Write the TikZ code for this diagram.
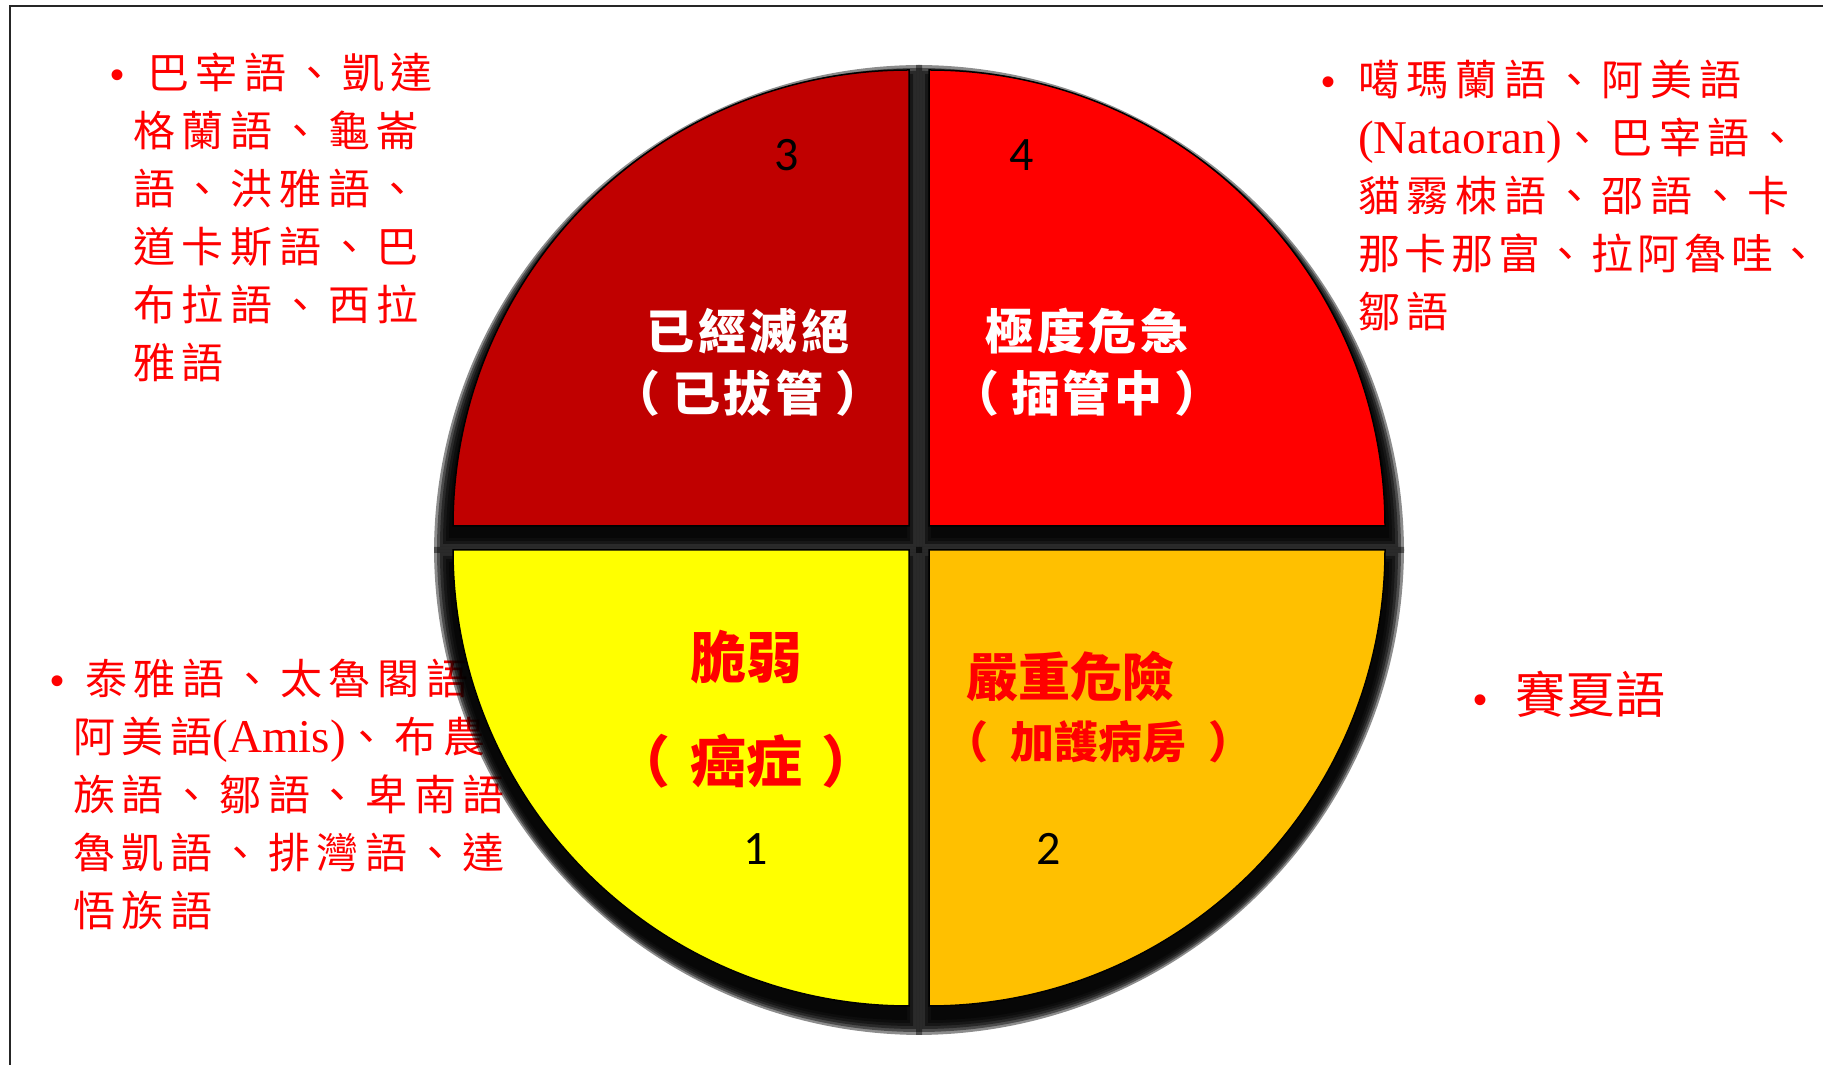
\documentclass[tikz,border=0pt]{standalone}
\usepackage{fontspec}
\newfontfamily\cjk{Noto Sans CJK TC}
\newfontfamily\cjklist{Noto Sans CJK TC}[LetterSpace=16]
\newfontfamily\latin{Liberation Serif}
\newfontfamily\bulfont{Liberation Sans}
\newfontfamily\numfont{Carlito}
\definecolor{deadred}{HTML}{C00000}
\definecolor{hotred}{HTML}{FF0000}
\definecolor{sunyellow}{HTML}{FFFF00}
\definecolor{amber}{HTML}{FFC000}
\newcommand{\bul}[1]{\llap{{\bulfont\fontsize{40}{58}\selectfont •}\hspace{#1pt}}}
\newcommand{\wrapparen}[2]{\kern-#1em（\kern#1em #2\kern#1em）\kern-#1em}
\tikzset{
		quarterpie/.style = {draw=black, line width=1.5pt},
		pieshadow/.style  = {fill=black, opacity=0.45},
		langlist/.style   = {anchor=north west, inner sep=0pt, align=left, text=hotred,
			font=\cjklist\fontsize{42}{58}\selectfont},
		stagelabel/.style = {inner sep=0pt, align=center,
			font=\cjk\bfseries\fontsize{48}{62}\selectfont\addfontfeature{LetterSpace=8}},
		ranknum/.style    = {inner sep=0pt, font=\numfont\fontsize{48}{48}\selectfont}
	}
\begin{document}
\begin{tikzpicture}[x=1pt, y=1pt]
		\useasboundingbox (0,0) rectangle (1823,1065);
		% frame of the slide
		\draw[line width=2pt, black!85] (10,1059) rectangle (1850,-20);
		% lists of languages, behind the circle
		\node[langlist] (list3) at (133,1012) {\bul{9}\hspace*{14pt}巴宰語、凱達\\格蘭語、龜崙\\語、洪雅語、\\道卡斯語、巴\\布拉語、西拉\\雅語};
		\node[langlist] (list4) at (1358,1005) {\bul{23}噶瑪蘭語、阿美語\\{\latin\fontsize{47}{58}\selectfont (Nataoran)}、巴宰語、\\貓霧栜語、邵語、卡\\{\addfontfeature{LetterSpace=11}那卡那富、拉阿魯哇、}\\鄒語};
		\node[langlist] (list1) at (73,406) {\bul{9}\hspace*{12pt}泰雅語、太魯閣語\\阿美語{\latin\fontsize{47}{58}\selectfont (Amis)}、布農\\族語、鄒語、卑南語\\魯凱語、排灣語、達\\悟族語};
		\node[langlist, font=\cjk\fontsize{50}{58}\selectfont] (list2) at (1515,394.5) {\bul{28}賽夏語};
		% shadows of the four quarters
		\foreach \cx/\cy/\sx/\sy/\b in {909/539/-1/1/20, 929/539/1/1/20, 909/515/-1/-1/4, 929/515/1/-1/4}
		\foreach \k in {-8,-5,-2,1,4,7}
		\fill[pieshadow] ({\cx-\sx*(6+\k)},{\cy-\b-\sy*\k}) -- ++({90-90*\sx}:{474+2*\k})
			arc[start angle={90-90*\sx}, delta angle={90*\sx*\sy}, radius={474+2*\k}] -- cycle;
		% the four quarters
		\foreach \cx/\cy/\sx/\sy/\col in {909/539/-1/1/deadred, 929/539/1/1/hotred, 909/515/-1/-1/sunyellow, 929/515/1/-1/amber}
		\filldraw[quarterpie, fill=\col] (\cx,\cy) -- ++({90-90*\sx}:456)
			arc[start angle={90-90*\sx}, delta angle={90*\sx*\sy}, radius=456] -- cycle;
		% stages
		\node[stagelabel, text=white] (extinct) at (748,703) {已經滅絕\\\wrapparen{0.25}{已拔管}};
		\node[stagelabel, text=white] (critical) at (1087,703) {極度危急\\\wrapparen{0.25}{插管中}};
		\node[stagelabel, text=hotred, font=\cjk\bfseries\fontsize{56}{104}\selectfont] (fragile) at (746,356) {脆弱\\\wrapparen{0.35}{癌症}};
		\node[stagelabel, text=hotred, align=left, anchor=west, font=\cjk\bfseries\fontsize{44}{62}\selectfont] (severe) at (966,358) {{\fontsize{52}{62}\selectfont 嚴重危險}\\\wrapparen{0.5}{加護病房}};
		\node[ranknum] (r3) at (787,910) {3};
		\node[ranknum] (r4) at (1022,910) {4};
		\node[ranknum] (r1) at (756,216) {1};
		\node[ranknum] (r2) at (1049,216) {2};
	\end{tikzpicture}
\end{document}
